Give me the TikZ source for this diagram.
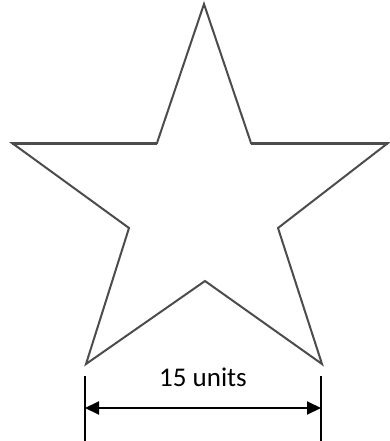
\documentclass[tikz,border=0pt]{standalone}
\usepackage{fontspec}
\setmainfont{Carlito}
\usetikzlibrary{arrows.meta}
\begin{document}
\begin{tikzpicture}[x=1pt,y=-1pt,
  staredge/.style={draw=black!70,line width=2pt,line join=miter},
  extline/.style={draw=black,line width=1.5pt},
  dimline/.style={draw=black,line width=2pt,{Triangle[length=14pt,width=13pt]}-{Triangle[length=14pt,width=13pt]}},
  dimlabel/.style={font=\fontsize{27}{32}\selectfont,inner sep=0pt}]
\useasboundingbox (0,0) rectangle (390,441);
\coordinate (top) at (204,4);
\coordinate (sr) at (251,143);
\coordinate (pr) at (388,143);
\coordinate (ir) at (278,228);
\coordinate (br) at (322,364);
\coordinate (ib) at (205,281);
\coordinate (bl) at (86,364);
\coordinate (il) at (129,228);
\coordinate (pl) at (12,143);
\coordinate (sl) at (157,143);
\draw[staredge] (top) -- (sr) -- (pr) -- (ir) -- (br) -- (ib) -- (bl) -- (il) -- (pl) -- (sl) -- cycle;
\draw[staredge,line width=3pt] (pl) -- (sl) (sr) -- (pr);
\coordinate (l1) at (85,376);
\coordinate (l2) at (85,441);
\coordinate (r1) at (321,376);
\coordinate (r2) at (321,441);
\draw[extline] (l1) -- (l2);
\draw[extline] (r1) -- (r2);
\coordinate (al) at (85,408);
\coordinate (ar) at (321,408);
\draw[dimline] (al) -- (ar);
\node[dimlabel] (lab) at (203,377) {15 units};
\end{tikzpicture}
\end{document}
